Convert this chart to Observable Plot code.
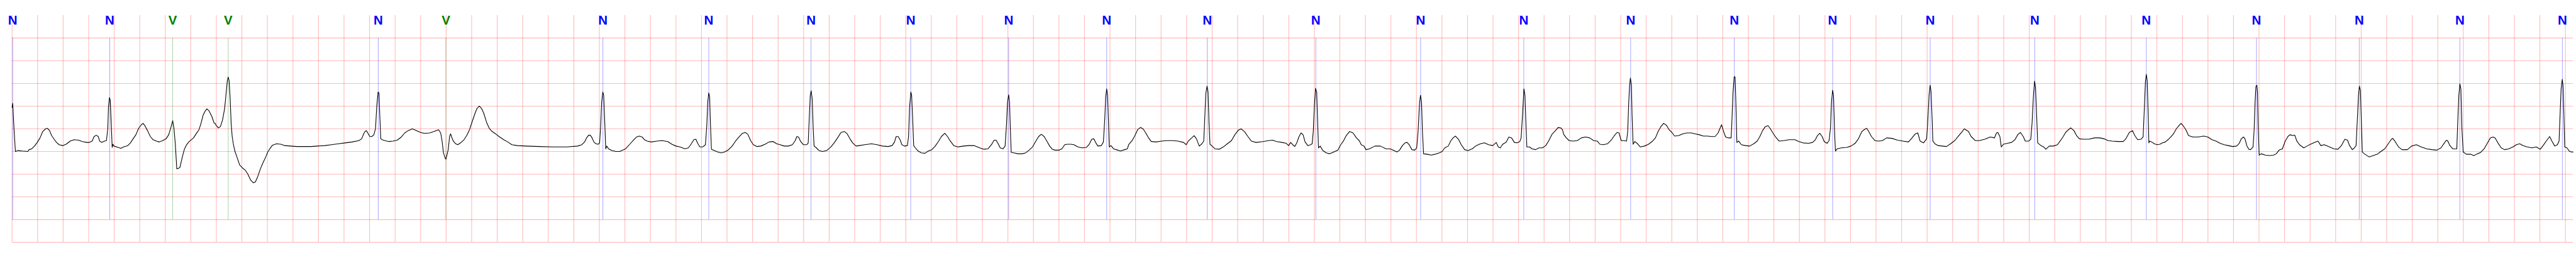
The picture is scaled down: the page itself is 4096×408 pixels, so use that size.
<!DOCTYPE html>
<html><head><meta charset="utf-8">
<script src="https://cdn.jsdelivr.net/npm/d3@7"></script>
<script src="https://cdn.jsdelivr.net/npm/@observablehq/plot@0.6"></script>
<style>html,body{margin:0;padding:0;background:#fff;overflow:hidden}</style>
</head><body><div id="chart"></div>
<script>
// Beat annotations (time in ms, label)
const beatTimesMs = [5,765,1258,1693,2868,3398,4628,5457,6258,7039,7806,8574,9362,10212,11033,11841,12678,13490,14260,15024,15843,16717,17580,18385,19173,19976];
const beatLabels  = ["N","N","V","V","N","V","N","N","N","N","N","N","N","N","N","N","N","N","N","N","N","N","N","N","N","N"];
// Horizontal grid levels (mV) and vertical grid step (ms)
const gridLevelsMv = [-2.5,-2,-1.5,-1,-0.5,0,0.5,1,1.5,2];
const gridStepMs = 200;
const xDomainMs = [0, 20061];
const yDomainMv = [-2.5, 2.5];
// ECG signal [time ms, amplitude mV]
const ecgSignal = [
[0,0.47],[5,0.56],[15,0.01],[26,-0.50],[47,-0.48],[79,-0.49],[122,-0.50],[133,-0.46],[154,-0.44],[176,-0.38],[197,-0.30],[219,-0.20],[240,-0.06],[262,0.00],[278,0.01],[294,-0.04],[310,-0.15],[332,-0.24],[348,-0.30],[369,-0.35],[396,-0.37],[423,-0.34],[455,-0.27],[487,-0.24],[519,-0.25],[551,-0.28],[584,-0.30],[605,-0.30],[627,-0.27],[643,-0.17],[659,-0.14],[675,-0.17],[686,-0.27],[702,-0.30],[723,-0.27],[739,-0.26],[750,0.01],[755,0.48],[763,0.69],[769,0.63],[777,0.09],[784,-0.41],[790,-0.34],[798,-0.38],[830,-0.41],[852,-0.43],[873,-0.40],[906,-0.37],[927,-0.31],[948,-0.22],[970,-0.13],[991,0.01],[1013,0.09],[1026,0.12],[1040,0.07],[1061,-0.04],[1083,-0.17],[1104,-0.24],[1131,-0.27],[1152,-0.29],[1179,-0.26],[1206,-0.22],[1227,-0.13],[1244,0.03],[1258,0.18],[1268,0.01],[1279,-0.35],[1290,-0.88],[1303,-0.87],[1315,-0.85],[1326,-0.71],[1340,-0.55],[1351,-0.44],[1367,-0.35],[1388,-0.28],[1421,-0.20],[1442,-0.11],[1464,-0.02],[1480,0.12],[1496,0.30],[1512,0.39],[1526,0.44],[1544,0.39],[1565,0.27],[1582,0.13],
[1590,0.12],[1600,0.07],[1616,0.02],[1632,0.05],[1649,0.20],[1665,0.45],[1675,0.74],[1686,1.06],[1693,1.14],[1700,1.06],[1708,0.67],[1716,0.12],[1724,-0.17],[1734,-0.35],[1745,-0.49],[1761,-0.62],[1783,-0.80],[1804,-0.86],[1826,-0.91],[1847,-1.00],[1869,-1.13],[1890,-1.19],[1906,-1.17],[1922,-1.07],[1944,-0.89],[1965,-0.75],[1987,-0.62],[2003,-0.51],[2019,-0.44],[2040,-0.36],[2072,-0.33],[2105,-0.34],[2137,-0.37],[2180,-0.38],[2233,-0.39],[2287,-0.39],[2341,-0.39],[2394,-0.38],[2448,-0.37],[2502,-0.35],[2555,-0.33],[2609,-0.31],[2663,-0.29],[2716,-0.26],[2738,-0.22],[2754,-0.11],[2765,-0.06],[2775,-0.04],[2786,-0.09],[2802,-0.17],[2818,-0.17],[2834,-0.13],[2847,0.01],[2856,0.48],[2867,0.81],[2874,0.79],[2880,0.30],[2888,-0.22],[2899,-0.24],[2920,-0.26],[2952,-0.28],[2984,-0.27],[3017,-0.25],[3049,-0.18],[3076,-0.09],[3102,-0.04],[3135,0.00],[3161,-0.03],[3199,-0.08],[3231,-0.10],
[3272,-0.09],[3304,-0.06],[3341,-0.02],[3357,-0.09],[3368,-0.27],[3379,-0.53],[3392,-0.64],[3398,-0.67],[3406,-0.58],[3416,-0.46],[3427,-0.17],[3435,-0.11],[3443,-0.18],[3456,-0.27],[3475,-0.33],[3491,-0.35],[3513,-0.31],[3540,-0.24],[3561,-0.15],[3583,-0.02],[3604,0.16],[3626,0.34],[3642,0.45],[3660,0.50],[3677,0.45],[3695,0.34],[3717,0.14],[3738,0.01],[3760,-0.06],[3787,-0.11],[3819,-0.18],[3851,-0.24],[3883,-0.29],[3915,-0.35],[3958,-0.37],[4023,-0.38],[4130,-0.39],[4237,-0.40],[4345,-0.40],[4430,-0.38],[4463,-0.35],[4484,-0.29],[4500,-0.20],[4516,-0.14],[4529,-0.14],[4543,-0.20],[4559,-0.30],[4575,-0.33],[4591,-0.34],[4602,-0.31],[4611,0.09],[4618,0.59],[4627,0.81],[4634,0.74],[4643,0.09],[4650,-0.44],[4658,-0.38],[4672,-0.44],[4699,-0.48],[4731,-0.50],[4758,-0.50],[4784,-0.47],[4806,-0.44],[4838,-0.34],[4870,-0.24],[4892,-0.18],[4913,-0.16],[4935,-0.18],
[4953,-0.24],[4975,-0.27],[5007,-0.29],[5050,-0.27],[5093,-0.26],[5136,-0.28],[5168,-0.34],[5200,-0.38],[5232,-0.40],[5270,-0.44],[5297,-0.42],[5318,-0.34],[5340,-0.24],[5356,-0.23],[5372,-0.33],[5388,-0.40],[5409,-0.40],[5431,-0.35],[5442,0.09],[5449,0.59],[5457,0.79],[5464,0.70],[5470,0.12],[5478,-0.45],[5501,-0.48],[5527,-0.51],[5554,-0.53],[5581,-0.51],[5608,-0.47],[5640,-0.38],[5667,-0.27],[5694,-0.18],[5720,-0.10],[5742,-0.08],[5763,-0.12],[5785,-0.26],[5806,-0.35],[5833,-0.39],[5865,-0.38],[5898,-0.34],[5930,-0.29],[5962,-0.28],[5989,-0.33],[6016,-0.35],[6048,-0.38],[6080,-0.38],[6112,-0.35],[6134,-0.26],[6147,-0.17],[6160,-0.18],[6177,-0.28],[6198,-0.35],[6225,-0.35],[6236,-0.31],[6244,0.23],[6252,0.74],[6259,0.84],[6267,0.67],[6275,0.01],[6282,-0.38],[6300,-0.42],[6321,-0.48],[6348,-0.50],[6380,-0.48],[6413,-0.40],[6439,-0.31],[6466,-0.20],[6493,-0.08],[6520,-0.06],[6541,-0.11],[6563,-0.22],[6584,-0.31],[6611,-0.38],
[6635,-0.37],[6678,-0.35],[6732,-0.33],[6775,-0.35],[6818,-0.38],[6861,-0.39],[6893,-0.37],[6912,-0.29],[6925,-0.17],[6941,-0.17],[6957,-0.25],[6970,-0.35],[6989,-0.38],[7013,-0.37],[7022,-0.17],[7030,0.48],[7040,0.81],[7046,0.74],[7054,0.23],[7062,-0.37],[7075,-0.42],[7097,-0.49],[7123,-0.53],[7150,-0.54],[7177,-0.49],[7204,-0.46],[7231,-0.38],[7258,-0.27],[7279,-0.17],[7306,-0.10],[7327,-0.17],[7349,-0.27],[7376,-0.37],[7408,-0.40],[7451,-0.38],[7494,-0.37],[7537,-0.37],[7579,-0.42],[7612,-0.45],[7644,-0.44],[7671,-0.35],[7692,-0.25],[7708,-0.25],[7724,-0.33],[7740,-0.42],[7762,-0.44],[7778,-0.38],[7789,0.09],[7797,0.59],[7806,0.75],[7813,0.59],[7820,-0.06],[7826,-0.52],[7848,-0.53],[7880,-0.55],[7912,-0.55],[7939,-0.53],[7966,-0.47],[7993,-0.40],[8019,-0.27],[8041,-0.17],[8062,-0.12],[8084,-0.17],[8105,-0.27],[8127,-0.38],[8148,-0.45],[8170,-0.47],[8202,-0.47],[8223,-0.44],[8245,-0.35],[8266,-0.34],[8293,-0.34],
[8317,-0.35],[8349,-0.40],[8382,-0.42],[8414,-0.41],[8435,-0.35],[8457,-0.23],[8473,-0.22],[8489,-0.31],[8505,-0.38],[8532,-0.37],[8548,-0.29],[8559,0.23],[8566,0.70],[8574,0.88],[8581,0.74],[8588,0.16],[8594,-0.40],[8607,-0.37],[8628,-0.44],[8660,-0.47],[8682,-0.49],[8714,-0.46],[8736,-0.44],[8746,-0.35],[8773,-0.26],[8795,-0.15],[8816,-0.02],[8838,0.03],[8859,0.00],[8880,-0.09],[8902,-0.20],[8923,-0.28],[8961,-0.29],[9004,-0.27],[9047,-0.26],[9090,-0.26],[9133,-0.27],[9176,-0.30],[9197,-0.35],[9213,-0.27],[9240,-0.20],[9259,-0.15],[9277,-0.22],[9299,-0.38],[9320,-0.33],[9334,-0.27],[9342,0.23],[9350,0.77],[9360,0.94],[9368,0.81],[9375,0.16],[9383,-0.34],[9395,-0.37],[9422,-0.44],[9455,-0.45],[9487,-0.40],[9519,-0.33],[9551,-0.26],[9578,-0.13],[9605,-0.03],[9626,0.00],[9653,-0.06],[9680,-0.17],[9707,-0.27],[9744,-0.30],[9798,-0.28],[9841,-0.26],[9873,-0.25],[9905,-0.28],[9948,-0.30],[9980,-0.32],
[9999,-0.37],[10015,-0.30],[10031,-0.35],[10047,-0.39],[10063,-0.31],[10079,-0.18],[10096,-0.09],[10112,-0.13],[10128,-0.29],[10149,-0.37],[10171,-0.35],[10183,-0.33],[10192,-0.06],[10201,0.52],[10210,0.89],[10219,0.81],[10226,0.16],[10233,-0.42],[10246,-0.38],[10267,-0.48],[10294,-0.53],[10321,-0.55],[10353,-0.51],[10385,-0.47],[10407,-0.35],[10428,-0.27],[10450,-0.15],[10476,-0.06],[10503,-0.09],[10530,-0.20],[10552,-0.26],[10568,-0.35],[10589,-0.38],[10605,-0.46],[10632,-0.44],[10675,-0.38],[10718,-0.38],[10761,-0.44],[10793,-0.44],[10825,-0.48],[10847,-0.51],[10868,-0.47],[10890,-0.37],[10911,-0.31],[10927,-0.30],[10943,-0.35],[10965,-0.46],[10986,-0.47],[11002,-0.42],[11013,-0.06],[11024,0.56],[11032,0.74],[11040,0.59],[11047,-0.06],[11056,-0.55],[11083,-0.56],[11115,-0.58],[11147,-0.56],[11179,-0.53],[11201,-0.50],[11222,-0.42],[11249,-0.38],[11270,-0.26],[11287,-0.20],[11306,-0.16],[11329,-0.23],[11351,-0.35],[11378,-0.46],[11405,-0.48],[11437,-0.44],[11469,-0.37],[11501,-0.33],[11533,-0.31],[11565,-0.35],[11598,-0.37],[11625,-0.30],[11641,-0.40],[11657,-0.42],[11673,-0.35],
[11681,-0.33],[11702,-0.30],[11724,-0.18],[11745,-0.20],[11767,-0.30],[11788,-0.31],[11810,-0.28],[11820,-0.20],[11831,0.30],[11842,0.88],[11850,0.74],[11858,0.09],[11865,-0.40],[11885,-0.40],[11906,-0.44],[11933,-0.46],[11960,-0.42],[11987,-0.42],[12013,-0.37],[12035,-0.27],[12062,-0.12],[12089,-0.04],[12110,0.03],[12131,0.02],[12144,-0.02],[12153,-0.12],[12174,-0.20],[12196,-0.26],[12228,-0.27],[12260,-0.26],[12292,-0.20],[12325,-0.18],[12357,-0.20],[12389,-0.26],[12416,-0.27],[12437,-0.34],[12464,-0.35],[12496,-0.33],[12528,-0.24],[12550,-0.15],[12571,-0.08],[12587,-0.09],[12604,-0.26],[12625,-0.26],[12646,-0.27],[12655,-0.06],[12663,0.59],[12670,0.96],[12676,1.12],[12684,0.96],[12689,0.30],[12697,-0.34],[12711,-0.28],[12732,-0.33],[12754,-0.40],[12786,-0.38],[12818,-0.34],[12850,-0.27],[12872,-0.20],[12893,-0.06],[12915,0.05],[12936,0.12],[12958,0.08],[12979,-0.02],[13001,-0.08],[13022,-0.16],[13054,-0.15],[13086,-0.11],[13119,-0.09],[13151,-0.09],[13183,-0.11],[13215,-0.13],[13247,-0.16],[13280,-0.16],[13312,-0.17],[13339,-0.17],
[13363,-0.09],[13373,-0.02],[13390,0.09],[13406,-0.06],[13422,-0.18],[13443,-0.20],[13465,-0.20],[13470,0.09],[13479,0.77],[13489,1.15],[13496,1.14],[13502,0.59],[13510,-0.30],[13524,-0.27],[13545,-0.35],[13577,-0.37],[13610,-0.38],[13642,-0.33],[13669,-0.27],[13690,-0.17],[13711,-0.04],[13733,0.05],[13754,0.07],[13770,0.01],[13792,-0.09],[13813,-0.18],[13840,-0.27],[13878,-0.26],[13921,-0.24],[13964,-0.24],[13996,-0.28],[14028,-0.31],[14071,-0.32],[14103,-0.30],[14125,-0.24],[14141,-0.15],[14159,-0.10],[14178,-0.17],[14194,-0.28],[14216,-0.32],[14232,-0.26],[14243,0.01],[14251,0.59],[14260,0.85],[14267,0.74],[14275,-0.06],[14282,-0.49],[14296,-0.44],[14328,-0.42],[14371,-0.41],[14404,-0.38],[14436,-0.32],[14462,-0.22],[14489,-0.06],[14511,-0.01],[14527,0.01],[14543,-0.06],[14564,-0.17],[14591,-0.26],[14618,-0.27],[14650,-0.26],[14683,-0.20],[14725,-0.21],[14768,-0.25],[14811,-0.27],[14854,-0.29],[14876,-0.22],[14908,-0.11],[14927,-0.09],[14945,-0.27],[14972,-0.31],[14996,-0.22],[15004,0.09],[15015,0.74],[15024,0.96],[15031,0.81],[15039,0.23],
[15045,-0.27],[15061,-0.33],[15087,-0.37],[15120,-0.38],[15152,-0.39],[15184,-0.33],[15216,-0.26],[15248,-0.15],[15275,-0.06],[15291,0.00],[15324,-0.06],[15345,-0.17],[15377,-0.26],[15409,-0.26],[15452,-0.23],[15495,-0.18],[15527,-0.20],[15544,-0.09],[15554,-0.08],[15570,-0.17],[15581,-0.40],[15597,-0.34],[15629,-0.32],[15661,-0.30],[15688,-0.24],[15710,-0.13],[15731,-0.08],[15753,-0.17],[15769,-0.27],[15796,-0.27],[15812,-0.23],[15822,0.12],[15833,0.74],[15842,1.05],[15849,0.92],[15858,0.30],[15866,-0.31],[15892,-0.37],[15914,-0.40],[15930,-0.45],[15957,-0.38],[15989,-0.38],[16021,-0.35],[16042,-0.27],[16064,-0.18],[16085,-0.08],[16107,-0.02],[16126,0.02],[16150,-0.04],[16171,-0.15],[16193,-0.22],[16225,-0.23],[16268,-0.23],[16311,-0.20],[16354,-0.20],[16386,-0.22],[16418,-0.26],[16450,-0.27],[16493,-0.28],[16536,-0.28],[16557,-0.22],[16584,-0.08],[16609,-0.04],[16627,-0.15],[16649,-0.24],[16675,-0.23],[16692,-0.18],[16702,0.48],[16710,1.03],[16717,1.20],[16724,1.06],
[16732,0.30],[16737,-0.31],[16743,-0.27],[16759,-0.29],[16780,-0.33],[16802,-0.35],[16823,-0.34],[16844,-0.31],[16866,-0.29],[16887,-0.24],[16909,-0.18],[16930,-0.11],[16952,0.00],[16973,0.07],[16989,0.12],[17005,0.07],[17027,-0.02],[17048,-0.15],[17081,-0.18],[17123,-0.18],[17166,-0.16],[17199,-0.18],[17231,-0.24],[17263,-0.27],[17295,-0.32],[17327,-0.35],[17360,-0.37],[17392,-0.39],[17424,-0.38],[17445,-0.32],[17461,-0.22],[17478,-0.18],[17490,-0.22],[17504,-0.37],[17520,-0.45],[17533,-0.46],[17553,-0.40],[17561,-0.06],[17569,0.59],[17576,0.94],[17583,0.96],[17588,0.81],[17593,0.09],[17601,-0.58],[17617,-0.55],[17649,-0.58],[17681,-0.59],[17714,-0.58],[17735,-0.55],[17757,-0.47],[17783,-0.44],[17805,-0.27],[17826,-0.17],[17842,-0.13],[17864,-0.15],[17880,-0.14],[17896,-0.27],[17917,-0.35],[17950,-0.42],[17976,-0.38],[18003,-0.34],[18036,-0.30],[18062,-0.27],[18084,-0.37],[18111,-0.35],[18143,-0.39],[18186,-0.44],[18218,-0.45],[18245,-0.37],[18272,-0.23],[18293,-0.25],[18309,-0.37],[18331,-0.46],[18347,-0.42],[18360,-0.37],[18368,0.09],[18379,0.74],[18386,0.94],[18394,0.85],[18400,0.30],[18409,-0.51],
[18419,-0.54],[18430,-0.56],[18462,-0.62],[18494,-0.59],[18526,-0.56],[18559,-0.49],[18585,-0.44],[18612,-0.33],[18634,-0.24],[18647,-0.21],[18666,-0.28],[18693,-0.40],[18720,-0.46],[18762,-0.46],[18795,-0.38],[18832,-0.35],[18870,-0.40],[18913,-0.44],[18956,-0.46],[18993,-0.47],[19025,-0.42],[19052,-0.31],[19068,-0.25],[19079,-0.27],[19095,-0.37],[19117,-0.44],[19149,-0.44],[19156,0.12],[19165,0.74],[19173,0.99],[19181,0.88],[19189,0.01],[19199,-0.51],[19224,-0.56],[19256,-0.56],[19283,-0.59],[19310,-0.55],[19336,-0.52],[19363,-0.44],[19390,-0.31],[19412,-0.20],[19433,-0.18],[19449,-0.20],[19471,-0.31],[19497,-0.42],[19524,-0.46],[19556,-0.44],[19589,-0.40],[19615,-0.35],[19642,-0.33],[19669,-0.37],[19701,-0.40],[19739,-0.42],[19771,-0.40],[19803,-0.45],[19825,-0.37],[19852,-0.26],[19876,-0.17],[19894,-0.27],[19916,-0.38],[19937,-0.35],[19950,-0.27],[19959,0.38],[19966,0.88],[19975,1.09],[19981,0.96],[19988,0.30],[19994,-0.40],[20012,-0.42],[20029,-0.49],[20045,-0.51],[20061,-0.51]
];

const beats = beatTimesMs.map((t, i) => ({t, label: beatLabels[i]}));
const beatColor = {N: "blue", V: "green"};
const gridTimes = d3.range(0, xDomainMs[1], gridStepMs);
const gridColor = "red";

const chart = Plot.plot({
  width: 4096,
  height: 408,
  marginLeft: 18.7,
  marginRight: 4.9,
  marginTop: 23.9,
  marginBottom: 23.9,
  x: {domain: xDomainMs, axis: null},
  y: {domain: yDomainMv, axis: null},
  style: {background: "white"},
  marks: [
    Plot.ruleX(gridTimes, {stroke: gridColor, strokeOpacity: 0.27, strokeWidth: 1.1}),
    Plot.ruleY(gridLevelsMv, {stroke: gridColor, strokeOpacity: 0.27, strokeWidth: 1.1}),
    ...["N", "V"].map(lab => Plot.ruleX(beats.filter(d => d.label === lab), {
      x: "t", y1: -2, y2: 2, stroke: beatColor[lab], strokeOpacity: 0.5, strokeWidth: 0.7
    })),
    Plot.line(ecgSignal, {x: d => d[0], y: d => d[1], stroke: "black", strokeWidth: 1.1}),
    ...["N", "V"].map(lab => Plot.text(beats.filter(d => d.label === lab), {
      x: "t", y: yDomainMv[1], text: "label", fill: beatColor[lab],
      fontSize: 20.5, fontWeight: "bold", fontFamily: "Liberation Sans, Arial, sans-serif",
      textAnchor: "middle", lineAnchor: "top"
    }))
  ]
});
document.getElementById("chart").appendChild(chart);
</script>
</body></html>
